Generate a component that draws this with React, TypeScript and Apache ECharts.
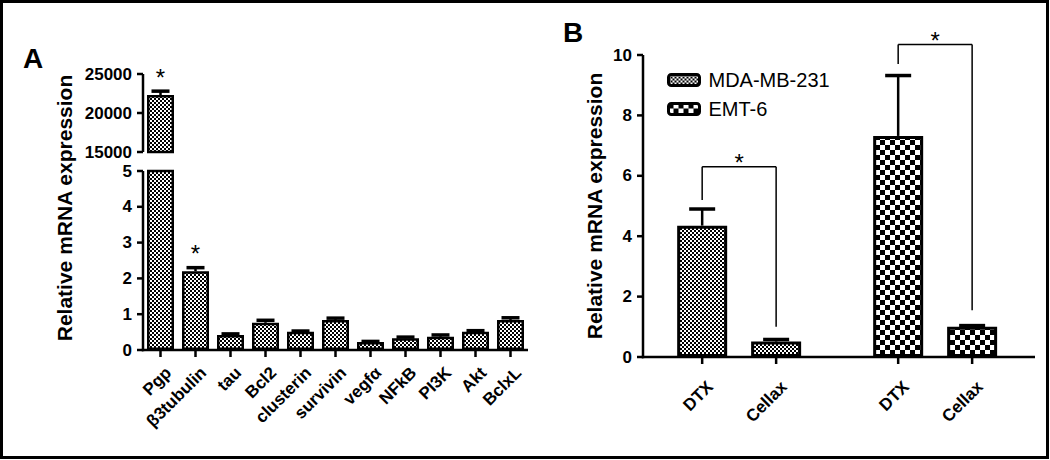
import React, { useEffect, useRef } from "react";
import * as echarts from "echarts";

// ---------- Data ----------
const A_CATEGORIES = ["Pgp", "β3tubulin", "tau", "Bcl2", "clusterin", "survivin", "vegfα", "NFkB", "PI3K", "Akt", "BclxL"];
const A_VALUES = [22300, 2.2, 0.42, 0.76, 0.51, 0.84, 0.22, 0.33, 0.37, 0.51, 0.84];
const A_ERRORS = [500, 0.1, 0.03, 0.07, 0.02, 0.05, 0.02, 0.03, 0.05, 0.03, 0.06];
const A_SIGNIFICANT = [true, true, false, false, false, false, false, false, false, false, false];
const A_TOP_TICKS = [15000, 20000, 25000];
const A_BOTTOM_TICKS = [0, 1, 2, 3, 4, 5];

const B_TREATMENTS = ["DTX", "Cellax"];
const B_SERIES_NAMES = ["MDA-MB-231", "EMT-6"];
const B_MDA_VALUES = [4.35, 0.51];
const B_MDA_ERRORS = [0.55, 0.07];
const B_EMT_VALUES = [7.32, 1.0];
const B_EMT_ERRORS = [2.0, 0.04];
const B_Y_TICKS = [0, 2, 4, 6, 8, 10];
// significance brackets: [fromBar, toBar, level, leftLegEnd, rightLegEnd]
const B_BRACKETS = [
  [0, 1, 6.3, 5.2, 1.0],
  [2, 3, 10.35, 9.7, 1.55],
];

// ---------- Layout / style ----------
const FONT = "Liberation Sans";
const GROUP_OFFSET = 2.65;
const bPos = (group: number, i: number) => 1 + i + group * GROUP_OFFSET;
const B_POSITIONS = [bPos(0, 0), bPos(0, 1), bPos(1, 0), bPos(1, 1)];
const B_LABELS = [B_TREATMENTS[0], B_TREATMENTS[1], B_TREATMENTS[0], B_TREATMENTS[1]];

function checker(cell: number): any {
  const c = document.createElement("canvas");
  c.width = cell * 2;
  c.height = cell * 2;
  const ctx = c.getContext("2d")!;
  ctx.fillStyle = "#ffffff";
  ctx.fillRect(0, 0, cell * 2, cell * 2);
  ctx.fillStyle = "#000000";
  ctx.fillRect(0, 0, cell, cell);
  ctx.fillRect(cell, cell, cell, cell);
  return { image: c.toDataURL(), repeat: "repeat", imageWidth: cell * 2, imageHeight: cell * 2 };
}

const tickLabel = () => ({ show: true, color: "#000", fontFamily: FONT, fontWeight: "bold", fontSize: 17 });
const stroke = () => ({ stroke: "#000", lineWidth: 2.5 });

// draws axis lines, ticks and rotated category labels through the grid's scales
function axisRenderer(cfg: { yTicks: number[]; xValues?: number[]; xLabels?: string[]; dx: number; dy: number }) {
  return (params: any, api: any) => {
    const cs = params.coordSys;
    const left = cs.x;
    const bottom = cs.y + cs.height;
    const ch: any[] = [
      { type: "line", shape: { x1: left, y1: cs.y, x2: left, y2: cfg.xValues ? bottom + 1.25 : bottom }, style: stroke() },
    ];
    cfg.yTicks.forEach((t) => {
      const p = api.coord([cfg.xValues ? cfg.xValues[0] : 0, t]);
      ch.push({ type: "line", shape: { x1: left - 6, y1: p[1], x2: left, y2: p[1] }, style: stroke() });
    });
    if (cfg.xValues) {
      ch.push({ type: "line", shape: { x1: left - 1.25, y1: bottom, x2: cs.x + cs.width, y2: bottom }, style: stroke() });
      cfg.xValues.forEach((xv, i) => {
        const p = api.coord([xv, 0]);
        ch.push({ type: "line", shape: { x1: p[0], y1: bottom, x2: p[0], y2: bottom + 7 }, style: stroke() });
        ch.push({
          type: "text",
          x: p[0] + cfg.dx,
          y: bottom + cfg.dy,
          rotation: Math.PI / 4,
          style: {
            text: cfg.xLabels![i],
            fontFamily: FONT,
            fontWeight: "bold",
            fontSize: 17,
            fill: "#000",
            textAlign: "right",
            textVerticalAlign: "middle",
          },
        });
      });
    }
    return { type: "group", children: ch };
  };
}

export default function App() {
  const ref = useRef<HTMLDivElement>(null);
  useEffect(() => {
    if (!ref.current) return;
    const chart = echarts.init(ref.current, undefined, { renderer: "svg" });
    const fine = checker(2);
    const coarse = checker(5);

    const A_TOP_MIN = A_TOP_TICKS[0];
    const A_TOP_MAX = A_TOP_TICKS[A_TOP_TICKS.length - 1];
    const A_BOT_MAX = A_BOTTOM_TICKS[A_BOTTOM_TICKS.length - 1];
    const B_MAX = B_Y_TICKS[B_Y_TICKS.length - 1];

    const errorRender = (lo: number, hi: number, capW: number) => (params: any, api: any) => {
      const x = api.value(0);
      const v = api.value(1);
      const e = api.value(2);
      const sig = api.value(3);
      if (v < lo || v > hi) return { type: "group", children: [] };
      const base = api.coord([x, v]);
      const top = api.coord([x, v + e]);
      const children: any[] = [
        { type: "line", shape: { x1: base[0], y1: base[1], x2: top[0], y2: top[1] }, style: { stroke: "#000", lineWidth: 2.5 } },
        { type: "line", shape: { x1: top[0] - capW / 2, y1: top[1], x2: top[0] + capW / 2, y2: top[1] }, style: { stroke: "#000", lineWidth: 3.5 } },
      ];
      if (sig) {
        children.push({
          type: "text",
          x: top[0],
          y: top[1] - 14,
          style: { text: "*", fontSize: 24, fontFamily: FONT, fill: "#000", textAlign: "center", textVerticalAlign: "middle" },
        });
      }
      return { type: "group", children };
    };

    const aErrData = A_VALUES.map((v, i) => [i, v, A_ERRORS[i], A_SIGNIFICANT[i] ? 1 : 0]);
    const bMdaErr = B_MDA_VALUES.map((v, i) => [B_POSITIONS[i], v, B_MDA_ERRORS[i], 0]);
    const bEmtErr = B_EMT_VALUES.map((v, i) => [B_POSITIONS[i + 2], v, B_EMT_ERRORS[i], 0]);
    const aIdx = A_CATEGORIES.map((_, i) => i);

    const hidden = () => ({ axisLine: { show: false }, axisTick: { show: false } });

    const option: any = {
      animation: false,
      backgroundColor: "#fff",
      grid: [
        { left: 143, top: 74, width: 385, height: 78 },
        { left: 143, top: 171, width: 385, height: 179 },
        { left: 643, top: 55, width: 392, height: 302 },
      ],
      xAxis: [
        { gridIndex: 0, type: "category", data: A_CATEGORIES, ...hidden(), axisLabel: { show: false } },
        { gridIndex: 1, type: "category", data: A_CATEGORIES, ...hidden(), axisLabel: { show: false } },
        { gridIndex: 2, type: "value", min: 0.2, max: 5.5, splitLine: { show: false }, ...hidden(), axisLabel: { show: false } },
      ],
      yAxis: [
        {
          gridIndex: 0,
          type: "value",
          min: A_TOP_MIN,
          max: A_TOP_MAX,
          interval: A_TOP_TICKS[1] - A_TOP_TICKS[0],
          splitLine: { show: false },
          ...hidden(),
          axisLabel: { ...tickLabel(), margin: 11, formatter: (v: number) => String(v) },
        },
        {
          gridIndex: 1,
          type: "value",
          min: 0,
          max: A_BOT_MAX,
          interval: A_BOTTOM_TICKS[1] - A_BOTTOM_TICKS[0],
          splitLine: { show: false },
          ...hidden(),
          axisLabel: { ...tickLabel(), margin: 11, formatter: (v: number) => String(v) },
        },
        {
          gridIndex: 2,
          type: "value",
          min: 0,
          max: B_MAX,
          interval: B_Y_TICKS[1] - B_Y_TICKS[0],
          splitLine: { show: false },
          ...hidden(),
          axisLabel: { ...tickLabel(), margin: 11, formatter: (v: number) => String(v) },
          name: "Relative mRNA expression",
          nameLocation: "middle",
          nameGap: 38,
          nameTextStyle: { color: "#000", fontFamily: FONT, fontWeight: "bold", fontSize: 21 },
        },
      ],
      legend: {
        data: B_SERIES_NAMES,
        orient: "vertical",
        left: 662,
        top: 65,
        itemWidth: 31,
        itemHeight: 11,
        itemGap: 9,
        icon: "roundRect",
        itemStyle: { borderColor: "#000", borderWidth: 3 },
        textStyle: { color: "#000", fontFamily: FONT, fontSize: 20, padding: [0, 0, 0, 4] },
      },
      series: [
        {
          type: "bar",
          xAxisIndex: 0,
          yAxisIndex: 0,
          barWidth: 27,
          data: A_VALUES.map((v) => (v > A_TOP_MIN ? v : "-")),
          itemStyle: { color: fine, borderColor: "#000", borderWidth: 2.5 },
        },
        {
          type: "bar",
          xAxisIndex: 1,
          yAxisIndex: 1,
          barWidth: 27,
          clip: true,
          data: A_VALUES,
          itemStyle: { color: fine, borderColor: "#000", borderWidth: 2.5 },
        },
        { type: "custom", xAxisIndex: 0, yAxisIndex: 0, renderItem: errorRender(A_TOP_MIN, A_TOP_MAX, 18), data: aErrData, z: 5 },
        { type: "custom", xAxisIndex: 1, yAxisIndex: 1, renderItem: errorRender(0, A_BOT_MAX, 18), data: aErrData, z: 5 },
        {
          name: B_SERIES_NAMES[0],
          type: "bar",
          xAxisIndex: 2,
          yAxisIndex: 2,
          barWidth: 50,
          barGap: "-100%",
          data: B_MDA_VALUES.map((v, i) => [B_POSITIONS[i], v]),
          itemStyle: { color: fine, borderColor: "#000", borderWidth: 3 },
        },
        {
          name: B_SERIES_NAMES[1],
          type: "bar",
          xAxisIndex: 2,
          yAxisIndex: 2,
          barWidth: 50,
          barGap: "-100%",
          data: B_EMT_VALUES.map((v, i) => [B_POSITIONS[i + 2], v]),
          itemStyle: { color: coarse, borderColor: "#000", borderWidth: 3 },
        },
        { type: "custom", xAxisIndex: 2, yAxisIndex: 2, renderItem: errorRender(0, B_MAX, 26), data: [...bMdaErr, ...bEmtErr], z: 5 },
        {
          type: "custom",
          xAxisIndex: 2,
          yAxisIndex: 2,
          z: 5,
          data: B_BRACKETS,
          renderItem: (params: any, api: any) => {
            const a = B_POSITIONS[api.value(0)];
            const b = B_POSITIONS[api.value(1)];
            const lvl = api.value(2);
            const p1 = api.coord([a, lvl]);
            const p2 = api.coord([b, lvl]);
            const l1 = api.coord([a, api.value(3)]);
            const l2 = api.coord([b, api.value(4)]);
            return {
              type: "group",
              children: [
                { type: "line", shape: { x1: l1[0], y1: l1[1], x2: p1[0], y2: p1[1] }, style: { stroke: "#000", lineWidth: 1.5 } },
                { type: "line", shape: { x1: p1[0], y1: p1[1], x2: p2[0], y2: p2[1] }, style: { stroke: "#000", lineWidth: 1.5 } },
                { type: "line", shape: { x1: p2[0], y1: p2[1], x2: l2[0], y2: l2[1] }, style: { stroke: "#000", lineWidth: 1.5 } },
                {
                  type: "text",
                  x: (p1[0] + p2[0]) / 2,
                  y: p1[1] - 4,
                  style: { text: "*", fontSize: 24, fontFamily: FONT, fill: "#000", textAlign: "center", textVerticalAlign: "middle" },
                },
              ],
            };
          },
        },
        // axes drawn through each grid's scales
        { type: "custom", xAxisIndex: 0, yAxisIndex: 0, z: 10, data: [[0]], renderItem: axisRenderer({ yTicks: A_TOP_TICKS, dx: 0, dy: 0 }) },
        { type: "custom", xAxisIndex: 1, yAxisIndex: 1, z: 10, data: [[0]], renderItem: axisRenderer({ yTicks: A_BOTTOM_TICKS, xValues: aIdx, xLabels: A_CATEGORIES, dx: 8, dy: 20 }) },
        { type: "custom", xAxisIndex: 2, yAxisIndex: 2, z: 10, data: [[B_POSITIONS[0]]], renderItem: axisRenderer({ yTicks: B_Y_TICKS, xValues: B_POSITIONS, xLabels: B_LABELS, dx: 8, dy: 27 }) },
      ],
      graphic: [
        {
          type: "rect",
          shape: { x: 1.5, y: 1.5, width: 1046, height: 456 },
          style: { fill: null, stroke: "#000", lineWidth: 3 },
          silent: true,
        },
        {
          type: "text",
          x: 33,
          y: 58,
          style: { text: "A", fontSize: 28, fontWeight: "bold", fontFamily: FONT, fill: "#000", textAlign: "center", textVerticalAlign: "middle" },
        },
        {
          type: "text",
          x: 573,
          y: 32,
          style: { text: "B", fontSize: 28, fontWeight: "bold", fontFamily: FONT, fill: "#000", textAlign: "center", textVerticalAlign: "middle" },
        },
        {
          type: "text",
          x: 64,
          y: 208,
          rotation: Math.PI / 2,
          style: { text: "Relative mRNA expression", fontSize: 21, fontWeight: "bold", fontFamily: FONT, fill: "#000", textAlign: "center", textVerticalAlign: "middle" },
        },
      ],
    };
    chart.setOption(option);
    return () => chart.dispose();
  }, []);
  return <div ref={ref} style={{ position: "absolute", left: 0, top: 0, width: 1050, height: 460 }} />;
}
